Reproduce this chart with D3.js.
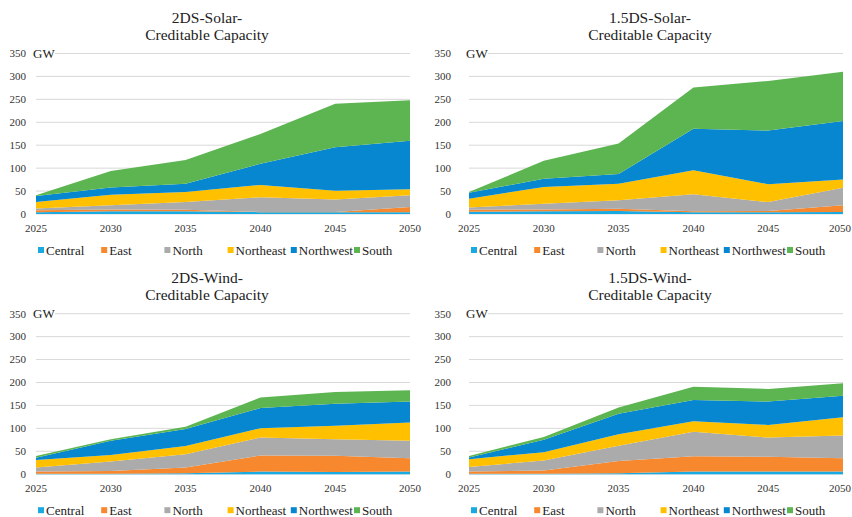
<!DOCTYPE html>
<html>
<head>
<meta charset="utf-8">
<script src="https://cdn.jsdelivr.net/npm/d3@7"></script>
<style>
body { margin: 0; background: #fff; }
</style>
</head>
<body>
<div id="chart"></div>
<script>
var years = [2025, 2030, 2035, 2040, 2045, 2050];
var regions = ["Central", "East", "North", "Northeast", "Northwest", "South"];
var colors = ["#19aae2", "#f7882e", "#ababab", "#ffc000", "#0687cf", "#5db552"];
var yTicks = [0, 50, 100, 150, 200, 250, 300, 350];

// values in GW (one array per region, one entry per year)
var solar2DS = {
  Central:   [4, 6, 6, 4, 4, 4],
  East:      [4, 4, 3.5, 0.5, 0.5, 11],
  North:     [4, 9, 16.5, 32, 27, 26],
  Northeast: [14, 23, 22, 27, 19, 13],
  Northwest: [13, 16, 18, 46, 95, 106],
  South:     [2, 36, 52, 65, 95, 88]
};
var solar15DS = {
  Central:   [5, 6, 6.6, 4, 4, 4.4],
  East:      [4.5, 4, 5, 2, 2.5, 14.6],
  North:     [4.5, 12.6, 18.4, 37, 19.5, 38],
  Northeast: [19.5, 36.4, 36, 52.5, 39, 18],
  Northwest: [13, 18, 21, 90.5, 117, 128],
  South:     [1.5, 39, 67, 90, 108, 107]
};
var wind2DS = {
  Central:   [1, 1, 2, 5.8, 5, 5.8],
  East:      [4.8, 6, 12.5, 35, 35, 29],
  North:     [9, 20.6, 29, 39.3, 36, 38],
  Northeast: [16, 14.4, 18, 20, 29.5, 40],
  Northwest: [5, 31, 37, 44, 48, 46],
  South:     [4, 3, 5, 23, 25.5, 24.5]
};
var wind15DS = {
  Central:   [1, 1, 2, 5.8, 5.8, 5.8],
  East:      [4.8, 7, 27, 33.5, 32, 29.2],
  North:     [10, 22, 33, 53, 42, 49.4],
  Northeast: [17, 18, 25, 23.3, 27.7, 40],
  Northwest: [3.4, 27, 44.7, 46.3, 51, 46.6],
  South:     [3.6, 6, 14, 28.6, 27.5, 27.6]
};

var width = 852, height = 517;
var font = "'Liberation Serif', 'DejaVu Serif', 'Times New Roman', Times, serif";

// panel layout (plot box + title centre + y label edge)
var panels = [
  {title: ["2DS-Solar-", "Creditable Capacity"], data: solar2DS, left: 36, top: 53.5, titleX: 207, labelX: 26},
  {title: ["1.5DS-Solar-", "Creditable Capacity"], data: solar15DS, left: 469, top: 53.5, titleX: 650, labelX: 451},
  {title: ["2DS-Wind-", "Creditable Capacity"], data: wind2DS, left: 36, top: 313.7, titleX: 207, labelX: 26},
  {title: ["1.5DS-Wind-", "Creditable Capacity"], data: wind15DS, left: 469, top: 313.7, titleX: 650, labelX: 451}
];
var plotW = 374, plotH = 160.5;

var svg = d3.select("#chart")
  .append("svg")
  .attr("width", width)
  .attr("height", height)
  .attr("font-family", font)
  .style("font-family", font);

var xScale = d3.scaleLinear().domain([2025, 2050]).range([0, plotW]);
var yScale = d3.scaleLinear().domain([0, 350]).range([plotH, 0]);

var stack = d3.stack().keys(regions);

var area = d3.area()
  .x(function(d) { return xScale(d.data.year); })
  .y0(function(d) { return yScale(d[0]); })
  .y1(function(d) { return yScale(d[1]); });

panels.forEach(function(p) {
  var rows = years.map(function(y, i) {
    var row = {year: y};
    regions.forEach(function(r) { row[r] = p.data[r][i]; });
    return row;
  });

  var g = svg.append("g")
    .attr("transform", "translate(" + p.left + "," + p.top + ")");

  //Titles
  p.title.forEach(function(t, i) {
    svg.append("text")
      .attr("x", p.titleX)
      .attr("y", p.top - 31 + i * 17)
      .attr("text-anchor", "middle")
      .attr("fill", "#222")
      .style("font-family", font)
      .style("font-size", "15.5px")
      .text(t);
  });

  //Gridlines
  g.selectAll(".grid")
    .data(yTicks)
    .enter().append("line")
    .attr("x1", 0)
    .attr("x2", plotW)
    .attr("y1", function(d) { return yScale(d); })
    .attr("y2", function(d) { return yScale(d); })
    .attr("stroke", "#d9d9d9")
    .attr("stroke-width", 1);

  //Y labels
  g.selectAll(".ylab")
    .data(yTicks)
    .enter().append("text")
    .attr("x", p.labelX - p.left)
    .attr("y", function(d) { return yScale(d); })
    .attr("dy", "0.35em")
    .attr("text-anchor", "end")
    .attr("fill", "#333")
    .style("font-family", font)
    .style("font-size", "11px")
    .text(function(d) { return d; });

  //Stacked areas
  g.selectAll(".layer")
    .data(stack(rows))
    .enter().append("path")
    .attr("d", area)
    .attr("fill", function(d, i) { return colors[i]; });

  //Unit label with white box over the top gridline
  g.append("rect")
    .attr("x", -3)
    .attr("y", yScale(350) - 7)
    .attr("width", 22)
    .attr("height", 14)
    .attr("fill", "#fff");
  g.append("text")
    .attr("x", -3)
    .attr("y", yScale(350))
    .attr("dy", "0.35em")
    .attr("fill", "#222")
    .style("font-family", font)
    .style("font-size", "13px")
    .text("GW");

  //X labels (last one nudged so it stays inside the page)
  g.selectAll(".xlab")
    .data(years)
    .enter().append("text")
    .attr("x", function(d) { return Math.min(xScale(d), width - 12 - p.left); })
    .attr("y", plotH + 18)
    .attr("text-anchor", "middle")
    .attr("fill", "#333")
    .style("font-family", font)
    .style("font-size", "11px")
    .text(function(d) { return d; });

  //Legend
  var legend = g.selectAll(".legend")
    .data(regions)
    .enter().append("g")
    .attr("transform", function(d, i) { return "translate(" + (2 + i * 63.2) + "," + (plotH + 36) + ")"; });

  legend.append("rect")
    .attr("x", 0)
    .attr("y", -3)
    .attr("width", 6)
    .attr("height", 6)
    .attr("fill", function(d, i) { return colors[i]; });

  legend.append("text")
    .attr("x", 8)
    .attr("dy", "0.35em")
    .attr("fill", "#222")
    .style("font-family", font)
    .style("font-size", "13px")
    .text(function(d) { return d; });
});
</script>
</body>
</html>
